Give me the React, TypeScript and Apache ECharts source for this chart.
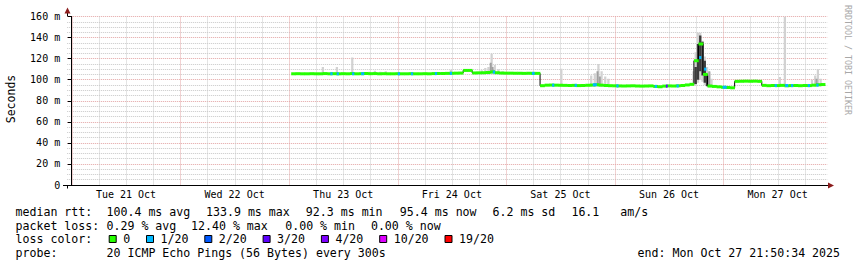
import { useEffect, useRef } from "react";
import * as echarts from "echarts";

// ---------- axis / labels ----------
const dayLabels = ["Tue 21 Oct", "Wed 22 Oct", "Thu 23 Oct", "Fri 24 Oct", "Sat 25 Oct", "Sun 26 Oct", "Mon 27 Oct"];
const dayLabelHours = [12, 36, 60, 84, 108, 132, 156];
const midnightHours = [0, 24, 48, 72, 96, 120, 144];
const sixHourHours = [6, 12, 18, 30, 36, 42, 54, 60, 66, 78, 84, 90, 102, 108, 114, 126, 132, 138, 150, 156, 162];

// ---------- median rtt (ms), hours since Tue 21 Oct 00:00 ----------
const medianHours = [
  49, 50, 51, 52, 53, 54, 55, 56, 57, 58,
  59, 60, 61, 62, 63, 64, 65, 66, 67, 68,
  69, 70, 71, 72, 73, 74, 75, 76, 77, 78,
  79, 80, 81, 82, 83, 84, 85, 86, 87, 88,
  89, 90, 91, 92, 93, 94, 95, 96, 97, 98,
  99, 100, 101, 102, 103, 104, 105, 106, 107, 108,
  109, 110, 111, 112, 113, 114, 115, 116, 117, 118,
  119, 120, 121, 122, 123, 124, 125, 126, 127, 128,
  129, 130, 131, 132, 133, 134, 135, 136, 137, 138,
  139, 140, 141, 142, 143, 144, 145, 146, 147, 148,
  149, 150, 151, 152, 153, 154, 155, 156, 157, 158,
  159, 160, 161, 162, 163, 164, 165, 166,
];
const medianValues = [
  105.6, 105.7, 105.6, 105.6, 105.7, 105.6, 105.6, 105.8, 105.6, 105.7,
  105.6, 105.7, 105.6, 105.8, 105.6, 105.7, 105.9, 105.7, 105.8, 105.6,
  105.7, 105.6, 105.6, 105.7, 105.6, 105.6, 105.7, 105.6, 105.6, 105.7,
  105.6, 105.8, 105.9, 105.9, 106.0, 106.1, 106.2, 106.3, 108.8, 108.8,
  106.4, 106.5, 106.6, 106.8, 107.4, 106.6, 106.3, 106.2, 106.2, 106.1,
  106.1, 106.0, 106.1, 106.0, 106.0, 94.3, 94.8, 94.9, 94.8, 94.7,
  94.6, 94.5, 94.6, 94.4, 94.5, 94.7, 94.9, 95.2, 94.8, 94.5,
  94.3, 94.2, 94.1, 94.0, 94.1, 94.2, 94.0, 93.9, 94.0, 94.1,
  93.6, 93.3, 93.9, 94.1, 94.0, 94.2, 94.5, 95.0, 95.6, 118.0,
  133.9, 105.0, 94.0, 93.6, 93.2, 92.8, 92.6, 92.3, 98.4, 98.5,
  98.6, 98.5, 98.6, 98.4, 94.6, 94.3, 94.5, 94.4, 94.6, 94.2,
  94.4, 94.5, 94.3, 94.5, 94.4, 94.8, 95.2, 95.4,
];

// ---------- packet loss events ----------
const lossColors = ["#26ff00", "#00b8ff", "#0059ff", "#5e00ff", "#7e00ff", "#dd00ff", "#ff0000"];
const lossLabels = ["0", "1/20", "2/20", "3/20", "4/20", "10/20", "19/20"];
const lossHours = [57.4, 58.8, 62.2, 64.3, 72.3, 75.2, 80.5, 83.8, 93.3, 102.0, 106.4, 111.4, 115.6, 120.6, 129.1, 131.5, 133.9, 138.9, 140.0, 144.3, 155.6, 158.0, 159.2, 162.9, 164.8];
const lossValues = [105.7, 105.6, 105.6, 105.7, 105.6, 105.6, 105.8, 106.0, 107.2, 106.0, 94.8, 94.6, 95.2, 94.1, 93.6, 93.9, 94.0, 121.0, 110.0, 92.8, 94.4, 94.5, 94.4, 94.4, 94.8];
const lossLevels = [1, 1, 1, 1, 1, 1, 1, 1, 1, 1, 1, 1, 1, 1, 1, 3, 1, 1, 1, 1, 1, 1, 1, 1, 1];
const lossSpans = [0.5, 0.5, 0.5, 0.7, 0.5, 0.5, 0.5, 0.5, 0.5, 0.6, 0.5, 0.5, 0.9, 0.5, 0.5, 0.4, 0.5, 0.5, 0.5, 0.9, 0.5, 0.7, 0.5, 0.5, 0.5];

// ---------- smoke (ping spread) ----------
const smokeHours = [55.5, 58.6, 62.0, 65.8, 67.0, 68.2, 69.4, 83.8, 90.6, 91.4, 92.1, 92.8, 93.5, 94.3, 95.2, 108.2, 114.8, 115.6, 116.4, 117.1, 117.9, 118.6, 137.4, 137.9, 138.4, 138.9, 139.4, 139.9, 140.4, 140.9, 141.4, 156.5, 157.6, 163.6, 164.3, 164.9, 165.5];
const smokeLow = [104.5, 104.5, 104.5, 104.5, 104.5, 104.5, 104.5, 104.5, 105, 105, 105, 105, 105, 105, 105, 93.5, 93, 93, 93, 93, 93, 93, 94, 95, 97, 100, 98, 95, 93, 92.5, 92.5, 93.5, 93, 93.5, 93.5, 93.5, 93.5];
const smokeHigh = [112, 112, 121, 107.5, 108.5, 107.5, 108, 109.5, 109, 111, 112, 124.6, 114, 110, 108, 110.4, 104, 106, 115, 108, 103, 101, 108, 126, 144.5, 144.5, 137, 122, 112, 107, 101, 102.5, 160, 100, 104, 110, 101];
const midHours = [92.6, 93.0, 116.2, 116.7, 164.6, 140.9];
const midLow = [106, 106, 95, 95, 94.5, 93];
const midHigh = [116, 112, 108, 103, 101, 108];
const coreHours = [137.9, 138.4, 138.9, 139.4, 139.9, 140.4];
const coreLow = [96, 100, 108, 104, 97, 94];
const coreHigh = [112, 134, 142, 136, 118, 104];

// ---------- legend texts ----------
const rttLine = [
  { x: 15.5, t: "median rtt:" },
  { x: 106.5, t: "100.4 ms avg" },
  { x: 206, t: "133.9 ms max" },
  { x: 305.8, t: "92.3 ms min" },
  { x: 399.8, t: "95.4 ms now" },
  { x: 492.5, t: "6.2 ms sd" },
  { x: 571.4, t: "16.1   am/s" },
];
const lossLine = [
  { x: 15.5, t: "packet loss:" },
  { x: 106.5, t: "0.29 % avg" },
  { x: 191, t: "12.40 % max" },
  { x: 285.2, t: "0.00 % min" },
  { x: 370.9, t: "0.00 % now" },
];
const probeText = "20 ICMP Echo Pings (56 Bytes) every 300s";
const endText = "end: Mon Oct 27 21:50:34 2025";

const MONO = "DejaVu Sans Mono";
const RED_GRID = "#e3a4a4";
const GREY_GRID = "#c8c8c8";

function txt(x: number, y: number, text: string, size = 11.6, extra: any = {}) {
  return {
    type: "text",
    x,
    y,
    silent: true,
    style: {
      text,
      fontFamily: MONO,
      fontSize: size,
      fill: "#000",
      align: "left",
      verticalAlign: "middle",
      textAlign: "left",
      textVerticalAlign: "middle",
      ...extra,
    },
  };
}

function buildOption() {
  const graphics: any[] = [];
  // y-axis extensions + arrow
  graphics.push({ type: "line", silent: true, shape: { x1: 67.5, y1: 185, x2: 67.5, y2: 188.5 }, style: { stroke: "#000", lineWidth: 1 } });
  graphics.push({ type: "line", silent: true, shape: { x1: 67.5, y1: 17, x2: 67.5, y2: 12 }, style: { stroke: "#000", lineWidth: 1 } });
  graphics.push({ type: "polygon", silent: true, shape: { points: [[64.5, 13.5], [70.5, 13.5], [67.5, 7.5]] }, style: { fill: "#8b1c1c" } });
  // x-axis extensions + arrow
  graphics.push({ type: "line", silent: true, shape: { x1: 63, y1: 185.5, x2: 67.5, y2: 185.5 }, style: { stroke: "#000", lineWidth: 1 } });
  graphics.push({ type: "line", silent: true, shape: { x1: 826, y1: 185.5, x2: 829, y2: 185.5 }, style: { stroke: "#000", lineWidth: 1 } });
  graphics.push({ type: "polygon", silent: true, shape: { points: [[828, 182.5], [828, 188.5], [834, 185.5]] }, style: { fill: "#8b1c1c" } });
  // y axis title
  graphics.push({
    type: "text", x: 11, y: 99, rotation: Math.PI / 2, silent: true,
    style: { text: "Seconds", fontFamily: MONO, fontSize: 11.5, fill: "#000", align: "center", verticalAlign: "middle", textAlign: "center", textVerticalAlign: "middle" },
  });
  // watermark
  graphics.push({
    type: "text", x: 847.5, y: 60, rotation: -Math.PI / 2, silent: true,
    style: { text: "RRDTOOL / TOBI OETIKER", fontFamily: MONO, fontSize: 8.3, fill: "#a8a8a8", align: "center", verticalAlign: "middle", textAlign: "center", textVerticalAlign: "middle" },
  });
  // legend lines
  rttLine.forEach((p) => graphics.push(txt(p.x, 211.7, p.t)));
  lossLine.forEach((p) => graphics.push(txt(p.x, 225.5, p.t)));
  graphics.push(txt(15.5, 239.3, "loss color:"));
  let bx = 108.7;
  lossLabels.forEach((lab, i) => {
    graphics.push({ type: "rect", silent: true, shape: { x: bx + 0.5, y: 235.5, width: 7, height: 7 }, style: { fill: lossColors[i], stroke: "#000", lineWidth: 1 } });
    const lx = bx + 15.3;
    graphics.push(txt(lx - 0.8, 239.3, lab));
    bx = lx + lab.length * 7 + 15;
  });
  graphics.push(txt(15.5, 253.3, "probe:"));
  graphics.push(txt(106.5, 253.3, probeText));
  graphics.push(txt(637.6, 253.3, endText));

  const cellData = medianHours.map((h, i) => [h, medianValues[i]]);
  const lossData = lossHours.map((h, i) => [h, lossValues[i], lossLevels[i], lossSpans[i]]);
  const smokeData = smokeHours.map((h, i) => [h, smokeLow[i], smokeHigh[i]]);
  const midData = midHours.map((h, i) => [h, midLow[i], midHigh[i]]);
  const coreData = coreHours.map((h, i) => [h, coreLow[i], coreHigh[i]]);
  const gridData = [
    ...sixHourHours.map((h) => [h, 0]),
    ...midnightHours.map((h) => [h, 1]),
  ];

  const bandItem = (color: string, w: number) => (params: any, api: any) => {
    const t = api.value(0);
    const p0 = api.coord([t - w / 2, api.value(2)]);
    const p1 = api.coord([t + w / 2, api.value(1)]);
    return { type: "rect", shape: { x: p0[0], y: p0[1], width: p1[0] - p0[0], height: p1[1] - p0[1] }, style: { fill: color } };
  };

  return {
    animation: false,
    backgroundColor: "#ffffff",
    grid: { left: 67.2, right: 857 - 827.4, top: 16.5, bottom: 267 - 185, containLabel: false },
    xAxis: {
      type: "value",
      min: -1,
      max: 167,
      axisLine: { show: true, lineStyle: { color: "#000", width: 1 } },
      axisTick: { show: false },
      splitLine: { show: false },
      axisLabel: {
        customValues: dayLabelHours,
        formatter: (v: number) => {
          const i = dayLabelHours.indexOf(Math.round(v));
          return i >= 0 ? dayLabels[i] : "";
        },
        fontFamily: MONO,
        fontSize: 10,
        color: "#000",
        margin: 4,
      },
    },
    yAxis: {
      type: "value",
      min: 0,
      max: 160,
      interval: 20,
      axisLine: { show: true, lineStyle: { color: "#000", width: 1 } },
      axisTick: { show: true, length: 4, lineStyle: { color: "#000" } },
      axisLabel: {
        formatter: (v: number) => (v === 0 ? "0" : `${v} m`),
        fontFamily: MONO,
        fontSize: 10,
        color: "#000",
        margin: 7,
      },
      splitLine: { show: true, lineStyle: { color: RED_GRID, type: [1, 1], width: 1 } },
      minorTick: { show: false, splitNumber: 4 },
      minorSplitLine: { show: true, lineStyle: { color: GREY_GRID, type: [1, 1], width: 1 } },
    },
    graphic: graphics,
    series: [
      {
        type: "custom",
        z: 1,
        silent: true,
        data: gridData,
        encode: { x: 0 },
        renderItem: (params: any, api: any) => {
          const h = api.value(0);
          const top = api.coord([h, 160]);
          const bot = api.coord([h, 0]);
          const x = Math.round(top[0]) + 0.5;
          return {
            type: "line",
            shape: { x1: x, y1: top[1], x2: x, y2: bot[1] },
            style: { stroke: api.value(1) === 1 ? RED_GRID : GREY_GRID, lineWidth: 1, lineDash: [1, 1] },
          };
        },
      },
      {
        type: "custom",
        z: 10,
        silent: true,
        clip: true,
        data: smokeData,
        encode: { x: 0, y: [1, 2] },
        renderItem: bandItem("#d2d2d2", 0.5),
      },
      {
        type: "custom",
        z: 11,
        silent: true,
        clip: true,
        data: midData,
        encode: { x: 0, y: [1, 2] },
        renderItem: bandItem("#a0a0a0", 0.45),
      },
      {
        type: "custom",
        z: 11,
        silent: true,
        clip: true,
        data: coreData,
        encode: { x: 0, y: [1, 2] },
        renderItem: bandItem("#3c3c3c", 0.52),
      },
      {
        type: "line",
        z: 12,
        silent: true,
        step: "middle",
        symbol: "none",
        data: cellData,
        lineStyle: { color: "#000", width: 1 },
      },
      {
        type: "custom",
        z: 13,
        silent: true,
        data: cellData,
        encode: { x: 0, y: 1 },
        renderItem: (params: any, api: any) => {
          const t = api.value(0);
          const v = api.value(1);
          const p0 = api.coord([t - 0.5, v]);
          const p1 = api.coord([t + 0.5, v]);
          return { type: "rect", shape: { x: p0[0], y: p0[1] - 1.5, width: p1[0] - p0[0] + 0.3, height: 3 }, style: { fill: lossColors[0] } };
        },
      },
      {
        type: "custom",
        z: 14,
        silent: true,
        data: lossData,
        encode: { x: 0, y: 1 },
        renderItem: (params: any, api: any) => {
          const t = api.value(0);
          const v = api.value(1);
          const lvl = api.value(2);
          const w = api.value(3);
          const p0 = api.coord([t - w / 2, v]);
          const p1 = api.coord([t + w / 2, v]);
          return { type: "rect", shape: { x: p0[0], y: p0[1] - 1.5, width: p1[0] - p0[0], height: 3 }, style: { fill: lossColors[lvl] } };
        },
      },
    ],
  };
}

export default function App() {
  const ref = useRef<HTMLDivElement>(null);
  useEffect(() => {
    if (!ref.current) return;
    const chart = echarts.init(ref.current, null, { renderer: "svg", width: 857, height: 267 });
    chart.setOption(buildOption() as any);
    return () => chart.dispose();
  }, []);
  return (
    <div
      ref={ref}
      style={{ position: "absolute", left: 0, top: 0, width: 857, height: 267, background: "#fff" }}
    />
  );
}
